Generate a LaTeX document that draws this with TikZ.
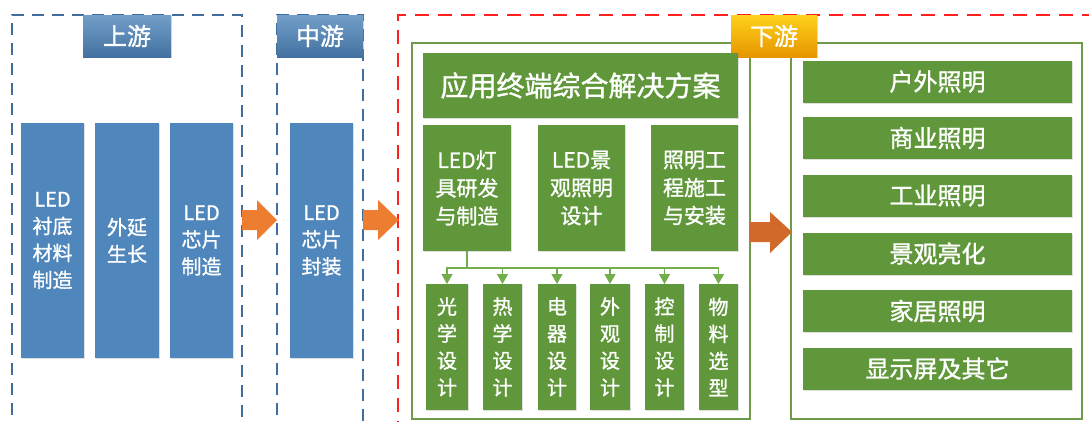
\documentclass[tikz,border=0pt]{standalone}
\usepackage{fontspec}
\setmainfont{Noto Sans CJK SC}[FakeBold=1.2, AutoFakeBold=0]
\usetikzlibrary{shadows,arrows.meta}
\definecolor{boxblue}{HTML}{4F86BC}
\definecolor{dashblue}{HTML}{3F6E9E}
\definecolor{boxgreen}{HTML}{60973A}
\definecolor{framegreen}{HTML}{6E9A4A}
\definecolor{linegreen}{HTML}{74AD4C}
\definecolor{arrorange}{HTML}{ED7D31}
\definecolor{arrdark}{HTML}{D0692A}
\definecolor{dashred}{HTML}{FF2020}
\tikzset{
  x=1pt, y=-1pt,
  base/.style={inner sep=0pt, outer sep=0pt, text=white, align=center,
    drop shadow={opacity=0.25, shadow xshift=1.2pt, shadow yshift=-1.2pt}},
  bluebox/.style={base, fill=boxblue, font=\fontsize{20}{27}\selectfont},
  greenbox/.style={base, fill=boxgreen, font=\fontsize{21}{28}\selectfont},
  smallbox/.style={base, fill=boxgreen, font=\fontsize{20}{27}\selectfont, minimum height=126pt},
  rightbox/.style={base, fill=boxgreen, font=\fontsize{24}{28}\selectfont, minimum width=269pt, minimum height=42pt},
  titleblue/.style={base, top color=boxblue!80!white, bottom color=boxblue!85!black, font=\fontsize{24}{28}\selectfont},
  titlegold/.style={base, top color=yellow!60!orange!90!white, bottom color=orange!70!yellow!90!black, font=\fontsize{24}{28}\selectfont},
  bluedash/.style={draw=dashblue, line width=2pt, dash pattern=on 12pt off 8pt},
  reddash/.style={draw=dashred, line width=2pt, dash pattern=on 14pt off 9pt},
  gframe/.style={draw=framegreen, line width=1.6pt},
  treeline/.style={draw=linegreen, line width=1.3pt},
  treearrow/.style={treeline, -{Triangle[width=11pt,length=10pt]}},
}
\begin{document}
\begin{tikzpicture}
\useasboundingbox (0,0) rectangle (1089,421);
\clip (0,0) rectangle (1089,421);
\fill[white] (0,0) rectangle (1089,421);
% dashed stage frames
\draw[bluedash] (12,435) -- (12,15) -- (242,15) -- (242,435);
\draw[bluedash] (277,435) -- (277,15) -- (363,15) -- (363,435);
\draw[reddash] (398,435) -- (398,15) -- (1100,15);
% stage titles
\node[titleblue, minimum width=88pt, minimum height=42pt] (tup) at (127,36) {上游};
\node[titleblue, minimum width=86pt, minimum height=42pt] (tmid) at (320,36) {中游};
% green frames
\draw[gframe] (412,43) rectangle (750,419);
\draw[gframe] (791,43) rectangle (1082,419);
\node[titlegold, minimum width=86pt, minimum height=42pt] (tdown) at (774,36) {下游};
% upstream boxes
\node[bluebox, minimum width=63pt, minimum height=235pt] (u1) at (52.5,240.5) {LED\\衬底\\材料\\制造};
\node[bluebox, minimum width=64pt, minimum height=235pt] (u2) at (127,240.5) {外延\\生长};
\node[bluebox, minimum width=63pt, minimum height=235pt] (u3) at (201.5,240.5) {LED\\芯片\\制造};
\node[bluebox, minimum width=63pt, minimum height=235pt] (m1) at (321.5,240.5) {LED\\芯片\\封装};
% block arrows
\fill[arrorange] (242,210) -- (257,210) -- (257,200) -- (277,220) -- (257,240) -- (257,230) -- (242,230) -- cycle;
\fill[arrorange] (363,210) -- (378,210) -- (378,200) -- (399,220) -- (378,240) -- (378,230) -- (363,230) -- cycle;
\fill[arrdark] (750,222) -- (770,222) -- (770,212) -- (792,232) -- (770,253) -- (770,242) -- (750,242) -- cycle;
% downstream solution
\node[base, fill=boxgreen, font=\fontsize{28}{32}\selectfont, minimum width=315pt, minimum height=65pt] (sol) at (580.5,85.5) {应用终端综合解决方案};
\node[greenbox, minimum width=88pt, minimum height=126pt] (s1) at (467,188) {LED灯\\具研发\\与制造};
\node[greenbox, minimum width=87pt, minimum height=126pt] (s2) at (581.5,188) {LED景\\观照明\\设计};
\node[greenbox, minimum width=87pt, minimum height=126pt] (s3) at (694.5,188) {照明工\\程施工\\与安装};
% small boxes
\node[smallbox, minimum width=42pt] (d1) at (447,347) {光\\学\\设\\计};
\node[smallbox, minimum width=39pt] (d2) at (502.5,347) {热\\学\\设\\计};
\node[smallbox, minimum width=38pt] (d3) at (557,347) {电\\器\\设\\计};
\node[smallbox, minimum width=40pt] (d4) at (610,347) {外\\观\\设\\计};
\node[smallbox, minimum width=39pt] (d5) at (664.5,347) {控\\制\\设\\计};
\node[smallbox, minimum width=39pt] (d6) at (718.5,347) {物\\料\\选\\型};
% tree connectors
\coordinate (j) at (467,268);
\draw[treeline] (s1.south) -- (j);
\foreach \d in {d1,d2,d3,d4,d5,d6}{
  \draw[treearrow] (j) -| (\d.north);
}
% application fields
\node[rightbox] (r1) at (937.5,81.5) {户外照明};
\node[rightbox] (r2) at (937.5,138) {商业照明};
\node[rightbox] (r3) at (937.5,195.5) {工业照明};
\node[rightbox] (r4) at (937.5,253.5) {景观亮化};
\node[rightbox] (r5) at (937.5,311) {家居照明};
\node[rightbox] (r6) at (937.5,368.5) {显示屏及其它};
\end{tikzpicture}
\end{document}
